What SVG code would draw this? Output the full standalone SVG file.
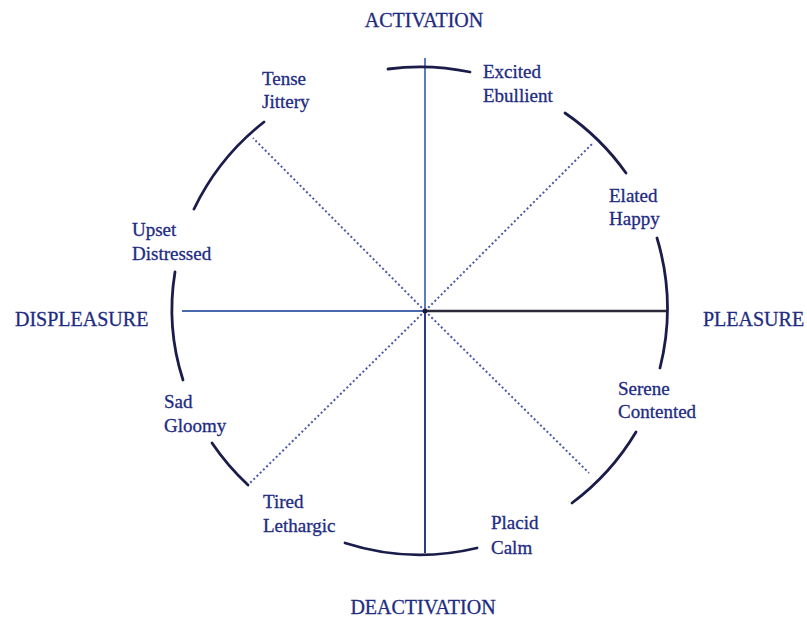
<svg xmlns="http://www.w3.org/2000/svg" width="807" height="619" viewBox="0 0 807 619">
<style>
text{font-family:"Liberation Serif","Times New Roman",serif;fill:#1e2b82;font-size:19px;stroke:#1e2b82;stroke-width:0.3}
.axis{font-size:20px}
.arc{fill:none;stroke:#1a1d4a;stroke-width:2.8;stroke-linecap:round}
.dot{stroke:#4b5aa6;stroke-width:2;stroke-dasharray:2 2.5;fill:none}
</style>
<rect width="807" height="619" fill="#ffffff"/>
<g id="connectors">
<line class="dot" x1="425" y1="311" x2="253" y2="138"/>
<line class="dot" x1="425" y1="311" x2="593" y2="143"/>
<line class="dot" x1="425" y1="311" x2="250" y2="483"/>
<line class="dot" x1="425" y1="311" x2="589" y2="473"/>
<line x1="182" y1="311" x2="425" y2="311" stroke="#4a68ae" stroke-width="2"/>
<line x1="425" y1="311" x2="668" y2="311" stroke="#2a2a38" stroke-width="2.5"/>
<line x1="425" y1="58" x2="425" y2="311" stroke="#5a7cc6" stroke-width="2"/>
<line x1="425" y1="311" x2="425" y2="553" stroke="#2b3a8a" stroke-width="2"/>
<circle cx="425" cy="311" r="2.5" fill="#1a1d3a"/>
<path class="arc" d="M388,69 A245,245 0 0 1 470,72"/>
<path class="arc" d="M565,113 A245,245 0 0 1 626,173"/>
<path class="arc" d="M657,238 A245,245 0 0 1 660,368"/>
<path class="arc" d="M636,432 A245,245 0 0 1 572,503"/>
<path class="arc" d="M477,548 A245,245 0 0 1 345,543"/>
<path class="arc" d="M248,485 A245,245 0 0 1 212,443"/>
<path class="arc" d="M183,380 A230,230 0 0 1 175,272"/>
<path class="arc" d="M194,209 A245,245 0 0 1 264,122"/>
</g>
<g id="activation"><text class="axis" x="424" y="27" text-anchor="middle">ACTIVATION</text></g>
<g id="deactivation"><text class="axis" x="423" y="614" text-anchor="middle">DEACTIVATION</text></g>
<g id="displeasure"><text class="axis" x="15" y="326">DISPLEASURE</text></g>
<g id="pleasure"><text class="axis" x="703" y="326">PLEASURE</text></g>
<g id="tense"><text x="262" y="85">Tense</text><text x="262" y="108">Jittery</text></g>
<g id="excited"><text x="483" y="78">Excited</text><text x="483" y="102">Ebullient</text></g>
<g id="elated"><text x="609" y="202">Elated</text><text x="609" y="225">Happy</text></g>
<g id="upset"><text x="132" y="236">Upset</text><text x="132" y="260">Distressed</text></g>
<g id="sad"><text x="164" y="408">Sad</text><text x="164" y="432">Gloomy</text></g>
<g id="serene"><text x="618" y="395">Serene</text><text x="618" y="418">Contented</text></g>
<g id="tired"><text x="263" y="508">Tired</text><text x="263" y="532">Lethargic</text></g>
<g id="placid"><text x="491" y="529">Placid</text><text x="491" y="554">Calm</text></g>
</svg>
